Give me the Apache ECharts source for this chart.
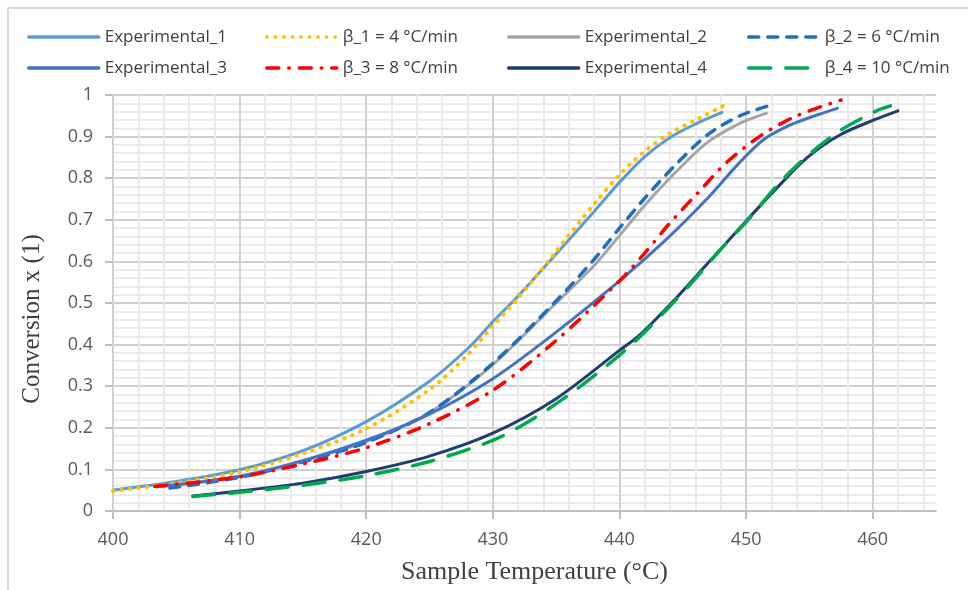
<!DOCTYPE html>
<html><head><meta charset="utf-8">
<script src="https://cdn.jsdelivr.net/npm/echarts@6/dist/echarts.min.js"></script>
<style>html,body{margin:0;padding:0;background:#fff}#c{width:968px;height:590px}</style>
</head><body><div id="c"></div>
<script>
const seriesNames = ['Experimental_1','β_1 = 4 °C/min','Experimental_2','β_2 = 6 °C/min','Experimental_3','β_3 = 8 °C/min','Experimental_4','β_4 = 10 °C/min'];
const xTickValues = [400, 410, 420, 430, 440, 450, 460];
const yTickValues = [0, 0.1, 0.2, 0.3, 0.4, 0.5, 0.6, 0.7, 0.8, 0.9, 1];

const exp1T = [400, 405, 410, 415, 420, 425, 428, 430, 432, 435, 438, 440, 442, 444, 446, 448.1];
const exp1X = [0.050, 0.071, 0.099, 0.145, 0.215, 0.312, 0.390, 0.455, 0.517, 0.618, 0.720, 0.790, 0.852, 0.898, 0.930, 0.958];
const beta1T = [400, 405, 410, 415, 420, 425, 428, 430, 432, 435, 438, 440, 442, 444, 446, 448.2];
const beta1X = [0.048, 0.067, 0.094, 0.138, 0.198, 0.292, 0.375, 0.445, 0.512, 0.624, 0.738, 0.808, 0.865, 0.908, 0.940, 0.974];
const exp2T = [403.5, 405, 410, 415, 420, 425, 430, 435, 438, 440, 442, 444.3, 446.9, 449.5, 451.6];
const exp2X = [0.058, 0.063, 0.084, 0.121, 0.167, 0.237, 0.352, 0.500, 0.590, 0.662, 0.735, 0.810, 0.885, 0.932, 0.956];
const beta2T = [404.5, 410, 415, 420, 425, 430, 435, 438, 440, 442, 444.3, 446.9, 449.5, 451.8];
const beta2X = [0.055, 0.081, 0.118, 0.165, 0.237, 0.355, 0.505, 0.605, 0.680, 0.752, 0.828, 0.903, 0.950, 0.974];
const exp3T = [404, 410, 415, 420, 425, 430, 435, 440, 443.7, 446.9, 449.5, 451.4, 453.5, 455.6, 457.2];
const exp3X = [0.060, 0.083, 0.121, 0.170, 0.233, 0.318, 0.430, 0.553, 0.653, 0.750, 0.838, 0.893, 0.928, 0.952, 0.968];
const beta3T = [403.3, 410, 415, 420, 425, 430, 435, 440, 442, 444, 446.2, 448.5, 451.2, 454, 457.5];
const beta3X = [0.059, 0.082, 0.113, 0.152, 0.210, 0.290, 0.410, 0.553, 0.620, 0.693, 0.765, 0.839, 0.903, 0.950, 0.988];
const exp4T = [406.3, 410, 415, 420, 425, 430, 435, 440, 441.7, 444.3, 446.9, 450, 452.2, 454.8, 457.4, 460.1, 462];
const exp4X = [0.036, 0.048, 0.067, 0.095, 0.132, 0.187, 0.270, 0.386, 0.426, 0.506, 0.593, 0.697, 0.769, 0.849, 0.904, 0.940, 0.962];
const beta4T = [406.3, 410, 415, 420, 425, 430, 433.2, 436.4, 438.7, 441.1, 443.7, 445.8, 448, 450.3, 452.4, 454.7, 457.4, 460.3, 461.4];
const beta4X = [0.035, 0.045, 0.062, 0.085, 0.119, 0.170, 0.222, 0.288, 0.342, 0.404, 0.483, 0.552, 0.629, 0.705, 0.781, 0.850, 0.914, 0.962, 0.974];

const allT = [exp1T, beta1T, exp2T, beta2T, exp3T, beta3T, exp4T, beta4T];
const allX = [exp1X, beta1X, exp2X, beta2X, exp3X, beta3X, exp4X, beta4X];

const styles = [
  {color:'#5B9BD5', width:3, type:'solid'},
  {color:'#FFC000', width:4, type:[0.5, 8], cap:'round'},
  {color:'#A5A5A5', width:3, type:'solid'},
  {color:'#1F6FC0', width:3.5, type:[10, 9], cap:'round'},
  {color:'#4472C4', width:3, type:'solid'},
  {color:'#FF0000', width:3.5, type:[12, 10, 0.5, 10], cap:'round'},
  {color:'#1F3D73', width:3, type:'solid'},
  {color:'#00A84F', width:3.5, type:[22, 15], cap:'round'}
];
const legendPos = [[27,27],[265,27],[507,27],[747,27],[27,58],[265,58],[507,58],[747,58]];

const tickFont = 'Open Sans';
const series = seriesNames.map((n, i) => ({
  name: n, type: 'line', xAxisIndex: 1, yAxisIndex: 0,
  data: allT[i].map((t, k) => [t, allX[i][k]]),
  smooth: 0.3, symbol: 'none', showSymbol: false,
  lineStyle: {color: styles[i].color, width: styles[i].width, type: styles[i].type, cap: styles[i].cap || 'round', join:'round'},
  itemStyle: {color: styles[i].color},
  z: 2 + i
}));

const legends = seriesNames.map((n, i) => ({
  data: [n], left: legendPos[i][0], top: legendPos[i][1], padding: 0,
  itemWidth: 70, itemHeight: 14, itemGap: 0,
  itemStyle: {opacity: 0},
  lineStyle: {width: 3.5},
  textStyle: {fontFamily: tickFont, fontSize: 17, color: '#404040', lineHeight: 20, padding:[0,0,0,1]},
  selectedMode: false
}));

const chart = echarts.init(document.getElementById('c'), null, {renderer: 'canvas'});
chart.setOption({
  animation: false,
  backgroundColor: '#fff',
  legend: legends,
  graphic: [{type:'rect', shape:{x:8, y:8, width:1000, height:1000}, style:{fill:'none', stroke:'#D9D9D9', lineWidth:2}, z:-10}],
  grid: {left: 113, right: 32, top: 95, bottom: 77},
  xAxis: [
    {type:'value', position:'bottom', min:400, max:465, interval:2, z:0,
     axisLine:{show:false}, axisTick:{show:false}, axisLabel:{show:false},
     splitLine:{show:true, showMaxLine:false, lineStyle:{color:'#EBEBEB', width:2}}},
    {type:'value', position:'bottom', min:400, max:465, interval:10, z:1,
     name:'Sample Temperature (°C)', nameLocation:'middle', nameGap:48,
     nameTextStyle:{fontFamily:'Liberation Serif', fontSize:26, color:'#404040', padding:[0,0,0,20]},
     axisLine:{show:true, onZero:false, lineStyle:{color:'#BFBFBF', width:2}},
     axisTick:{show:true, length:8, lineStyle:{color:'#BFBFBF', width:2}},
     axisLabel:{margin:20, showMaxLabel:false, color:'#595959', fontSize:18, fontFamily:tickFont,
       formatter: v => xTickValues.includes(v) ? String(v) : ''},
     splitLine:{show:true, showMaxLine:false, lineStyle:{color:'#D0D0D0', width:2}}}
  ],
  yAxis: [{type:'value', min:0, max:1, interval:0.1,
     name:'Conversion x (1)', nameLocation:'middle', nameGap:68,
     nameTextStyle:{fontFamily:'Liberation Serif', fontSize:25, color:'#404040', padding:[0,32,0,0]},
     axisLine:{show:true, lineStyle:{color:'#BFBFBF', width:2}},
     axisTick:{show:true, length:8, lineStyle:{color:'#BFBFBF', width:2}},
     axisLabel:{margin:20, color:'#595959', fontSize:18, fontFamily:tickFont,
       formatter: v => { const m = yTickValues.find(t => Math.abs(t - v) < 1e-6); return m === undefined ? '' : String(m); }},
     minorTick:{show:false, splitNumber:5},
     minorSplitLine:{show:true, lineStyle:{color:'#EBEBEB', width:2}},
     splitLine:{show:true, lineStyle:{color:'#D0D0D0', width:2}}}],
  series: series
});
</script>
</body></html>
